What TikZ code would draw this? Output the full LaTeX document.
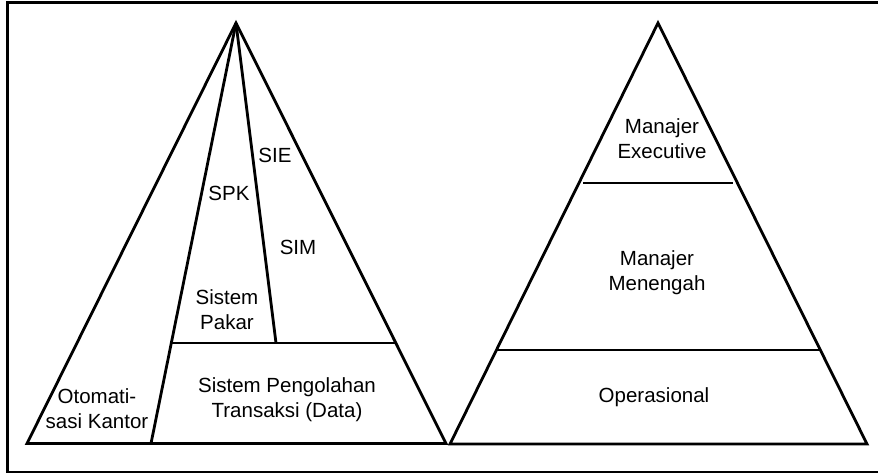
\documentclass[tikz,border=0pt]{standalone}
\usepackage{fontspec}
\setmainfont{Liberation Sans}
\begin{document}
\begin{tikzpicture}[x=1pt,y=-1pt,
  edge/.style={line width=2.8pt, line join=miter},
  lbl/.style={font=\fontsize{20.5}{25}\selectfont, align=center, inner sep=0pt}]
\useasboundingbox (0,0) rectangle (878,474);
% frame
\draw[line width=2.4pt] (878,2.5) -- (7.5,2.5) -- (7.5,472) -- (878,472);
% left pyramid
\coordinate (LA) at (236,23);
\coordinate (LL) at (27,443.5);
\coordinate (LR) at (446,443.5);
\coordinate (LO) at (151,443.5);
\coordinate (LS) at (171,343);
\coordinate (LM) at (276,343);
\coordinate (LH) at (397,343);
\draw[edge] (LA) -- (LL) -- (LR) -- cycle;
\draw[edge] (LA) -- (LO);
\draw[edge] (LA) -- (LM);
\draw[edge] (LS) -- (LH);
\node[lbl] (sie) at (275,155) {SIE};
\node[lbl] (spk) at (229,193) {SPK};
\node[lbl] (sim) at (298,247) {SIM};
\node[lbl] (pakar) at (227,310) {Sistem\\Pakar};
\node[lbl] (oto) at (97,409) {Otomati-\\sasi Kantor};
\node[lbl] (spt) at (287,400) {Sistem Pengolahan\\Transaksi (Data)};
% right pyramid
\coordinate (RA) at (658,23);
\coordinate (RL) at (450,444);
\coordinate (RR) at (867,444);
\draw[edge] (RA) -- (RL) -- (RR) -- cycle;
\coordinate (R1a) at (583,183);
\coordinate (R1b) at (733,183);
\coordinate (R2a) at (497,350);
\coordinate (R2b) at (819,350);
\draw[edge] (R1a) -- (R1b);
\draw[edge] (R2a) -- (R2b);
\node[lbl] (exec) at (662,139) {Manajer\\Executive};
\node[lbl] (mid) at (657,273) {Manajer\\Menengah};
\node[lbl] (ops) at (654,397) {Operasional};
\end{tikzpicture}
\end{document}
